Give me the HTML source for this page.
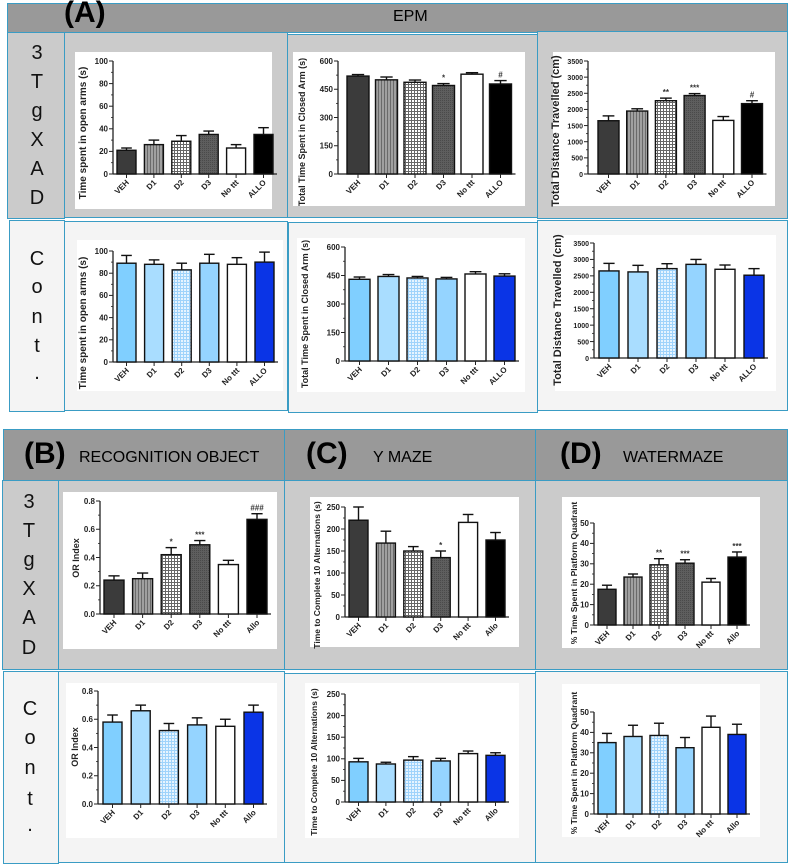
<!DOCTYPE html>
<html><head><meta charset="utf-8"><style>
body{margin:0;width:790px;height:866px;background:#fff;position:relative;overflow:hidden;font-family:"Liberation Sans",sans-serif}
.c{position:absolute;box-sizing:border-box;border:1.5px solid #3a9cc4}
.g{background:#cbcbcb}.w{background:#f4f4f4}.h{background:#999;color:#111}
.lbl{position:absolute;font-size:20px;color:#111;text-align:center;width:30px}
.ht{position:absolute;font-size:16px;white-space:nowrap}
.hb{position:absolute;font-size:30px;font-weight:bold;white-space:nowrap}
svg{position:absolute;left:0;top:0}
</style></head><body>
<div class="c h" style="left:7px;top:3px;width:781px;height:30px"></div>
<div class="hb" style="left:64px;top:-4px">(A)</div>
<div class="ht" style="left:393px;top:8px">EPM</div>
<div class="c g" style="left:7px;top:32px;width:58px;height:187px"></div>
<div class="c g" style="left:64px;top:32px;width:224px;height:186px"></div>
<div class="c g" style="left:287px;top:34px;width:251px;height:184px"></div>
<div class="c g" style="left:537px;top:31px;width:251px;height:188px"></div>
<div class="c w" style="left:9px;top:220px;width:56px;height:192px"></div>
<div class="c w" style="left:64px;top:221px;width:224px;height:190px"></div>
<div class="c w" style="left:288px;top:222px;width:250px;height:191px"></div>
<div class="c w" style="left:537px;top:220px;width:251px;height:191px"></div>

<div class="c h" style="left:3px;top:429px;width:282px;height:52px"></div>
<div class="c h" style="left:284px;top:429px;width:252px;height:52px"></div>
<div class="c h" style="left:535px;top:429px;width:253px;height:52px"></div>
<div class="hb" style="left:24px;top:437px">(B)</div>
<div class="ht" style="left:79px;top:449px">RECOGNITION OBJECT</div>
<div class="hb" style="left:306px;top:437px">(C)</div>
<div class="ht" style="left:373px;top:449px">Y MAZE</div>
<div class="hb" style="left:560px;top:437px">(D)</div>
<div class="ht" style="left:623px;top:449px">WATERMAZE</div>
<div class="c g" style="left:2px;top:480px;width:57px;height:190px"></div>
<div class="c g" style="left:58px;top:480px;width:227px;height:190px"></div>
<div class="c g" style="left:284px;top:480px;width:252px;height:190px"></div>
<div class="c g" style="left:535px;top:480px;width:253px;height:190px"></div>
<div class="c w" style="left:3px;top:671px;width:56px;height:193px"></div>
<div class="c w" style="left:58px;top:671px;width:227px;height:192px"></div>
<div class="c w" style="left:284px;top:673px;width:252px;height:190px"></div>
<div class="c w" style="left:535px;top:671px;width:253px;height:192px"></div>

<div>
<div class="lbl" style="left:22px;top:42px">3</div><div class="lbl" style="left:22px;top:71px">T</div><div class="lbl" style="left:22px;top:100px">g</div><div class="lbl" style="left:22px;top:129px">X</div><div class="lbl" style="left:22px;top:158px">A</div><div class="lbl" style="left:22px;top:187px">D</div></div>
<div>
<div class="lbl" style="left:22px;top:248px">C</div><div class="lbl" style="left:22px;top:276px">o</div><div class="lbl" style="left:22px;top:306px">n</div><div class="lbl" style="left:22px;top:335px">t</div><div class="lbl" style="left:22px;top:362px">.</div></div>
<div>
<div class="lbl" style="left:14px;top:491px">3</div><div class="lbl" style="left:14px;top:520px">T</div><div class="lbl" style="left:14px;top:549px">g</div><div class="lbl" style="left:14px;top:578px">X</div><div class="lbl" style="left:14px;top:607px">A</div><div class="lbl" style="left:14px;top:637px">D</div></div>
<div>
<div class="lbl" style="left:15px;top:698px">C</div><div class="lbl" style="left:15px;top:727px">o</div><div class="lbl" style="left:15px;top:757px">n</div><div class="lbl" style="left:15px;top:788px">t</div><div class="lbl" style="left:15px;top:814px">.</div></div>

<svg id="s" width="790" height="866">
<defs>
<pattern id="pStripe" width="3" height="4" patternUnits="userSpaceOnUse"><rect width="3" height="4" fill="#a0a0a0"/><rect width="1" height="4" fill="#6a6a6a"/></pattern>
<pattern id="pCheck" width="3" height="3" patternUnits="userSpaceOnUse"><rect width="3" height="3" fill="#fff"/><rect width="3" height="1" fill="#666"/><rect width="1" height="3" fill="#666"/></pattern>
<pattern id="pD3" width="2" height="2" patternUnits="userSpaceOnUse"><rect width="2" height="2" fill="#5e5e5e"/><rect width="1" height="1" fill="#4a4a4a"/></pattern>
<pattern id="pCheckB" width="3" height="3" patternUnits="userSpaceOnUse"><rect width="3" height="3" fill="#e6f4ff"/><rect width="3" height="1" fill="#9fd3fb"/><rect width="1" height="3" fill="#9fd3fb"/></pattern>
</defs>
</svg>
<script>
const catsA = ["VEH","D1","D2","D3","No ttt","ALLO"];
const catsB = ["VEH","D1","D2","D3","No ttt","Allo"];
const openTgValues = [21,26,29,35,23,35];
const openTgErrors = [2,4,5,3,3,6];
const closedTgValues = [520,500,487,470,530,478];
const closedTgErrors = [8,15,12,10,8,18];
const distTgValues = [1650,1950,2270,2430,1660,2180];
const distTgErrors = [150,70,80,60,120,90];
const openCtValues = [89,88,83,89,88,90];
const openCtErrors = [7,4,6,8,6,9];
const closedCtValues = [430,445,437,432,458,447];
const closedCtErrors = [12,10,8,8,12,12];
const distCtValues = [2650,2620,2720,2850,2700,2520];
const distCtErrors = [230,200,150,150,130,200];
const orTgValues = [0.24,0.25,0.42,0.49,0.35,0.67];
const orTgErrors = [0.03,0.04,0.05,0.03,0.03,0.04];
const orCtValues = [0.58,0.66,0.52,0.56,0.55,0.65];
const orCtErrors = [0.05,0.04,0.05,0.05,0.05,0.05];
const ymTgValues = [220,168,150,135,215,175];
const ymTgErrors = [30,27,10,15,18,17];
const ymCtValues = [93,88,97,95,112,108];
const ymCtErrors = [8,4,8,6,6,6];
const wmTgValues = [17.5,23.5,29.5,30.3,21,33.3];
const wmTgErrors = [2,1.5,3,1.7,1.8,2.5];
const wmCtValues = [35,38,38.5,32.5,42.5,39];
const wmCtErrors = [4.5,5.5,6,5,5.5,5];
const starsEpmClosed = ["","","","*","","#"];
const starsEpmDist = ["","","**","***","","#"];
const starsOr = ["","","*","***","","###"];
const starsYm = ["","","","*","",""];
const starsWm = ["","","**","***","","***"];
const ticks100 = [0,20,40,60,80,100];
const ticks600 = [0,150,300,450,600];
const ticks3500 = [0,500,1000,1500,2000,2500,3000,3500];
const ticksOr = [0,0.2,0.4,0.6,0.8];
const ticksYm = [0,50,100,150,200,250];
const ticksWm = [0,10,20,30,40,50];

const fillTg = ["#3b3b3b","url(#pStripe)","url(#pCheck)","url(#pD3)","#fff","#000"];
const fillCt = ["#80cfff","#a9ddff","url(#pCheckB)","#95d4ff","#fff","#0a34e6"];
const NS = "http://www.w3.org/2000/svg";
const svg = document.getElementById("s");
function mk(tag, attrs, parent){const e=document.createElementNS(NS,tag);for(const k in attrs)e.setAttribute(k,attrs[k]);(parent||svg).appendChild(e);return e;}

function chart(name,c,cats,vals,errs,ticks,ymax,fills,stars,label,fmt){
  const g=mk("g",{});
  
  
  const bg=mk("rect",{x:c.box[0],y:c.box[1],width:c.box[2]-c.box[0],height:c.box[3]-c.box[1],fill:"#fff"},g);
  
  
  const yS=v=>c.yB-v/ymax*(c.yB-c.yT);
  const xS=i=>c.c0+i*c.step;
  const xEnd=xS(cats.length-1)+c.bw/2+4;
  const ya=mk("line",{x1:c.ax,y1:c.yT,x2:c.ax,y2:c.yB,stroke:"#222","stroke-width":1.3},g);
  
  
  const xa=mk("line",{x1:c.ax,y1:c.yB,x2:xEnd,y2:c.yB,stroke:"#222","stroke-width":1.3},g);
  
  
  ticks.forEach((t,k)=>{
    const y=yS(t);
    mk("line",{x1:c.ax-4,y1:y,x2:c.ax,y2:y,stroke:"#222","stroke-width":1},g);
    if(k<ticks.length-1){const ym=yS((t+ticks[k+1])/2);mk("line",{x1:c.ax-2,y1:ym,x2:c.ax,y2:ym,stroke:"#222","stroke-width":0.8},g);}
    const tl=mk("text",{x:c.ax-5,y:y+2.8,"text-anchor":"end","font-size":c.tf||8,"font-weight":"bold",fill:"#222"},g);
    tl.textContent=fmt?fmt(t):t;
    
    
  });
  vals.forEach((v,i)=>{
    const cx=xS(i),top=yS(v),et=yS(v+errs[i]);
    mk("line",{x1:cx,y1:top,x2:cx,y2:et,stroke:"#111","stroke-width":1.4},g);
    mk("line",{x1:cx-c.bw*0.28,y1:et,x2:cx+c.bw*0.28,y2:et,stroke:"#111","stroke-width":1.4},g);
    const b=mk("rect",{x:cx-c.bw/2,y:top,width:c.bw,height:c.yB-top,fill:fills[i],stroke:"#111","stroke-width":1.4},g);
    
    
    mk("line",{x1:cx,y1:c.yB,x2:cx,y2:c.yB+4,stroke:"#222","stroke-width":1},g);
    const xl=mk("text",{transform:`translate(${cx+3},${c.yB+9}) rotate(-45)`,"text-anchor":"end","font-size":c.xf||8,"font-weight":"bold",fill:"#222"},g);
    xl.textContent=cats[i];
    
    
    if(stars&&stars[i]){
      const st=mk("text",{x:cx,y:et-3,"text-anchor":"middle","font-size":8,"font-weight":"bold",fill:"#333"},g);
      st.textContent=stars[i];
      
      
    }
  });
  const lb=mk("text",{transform:`translate(${c.lx},${c.ly}) rotate(-90)`,"text-anchor":"middle","font-size":c.lf,"font-weight":"bold",fill:"#222"},g);
  lb.textContent=label;
  
  
}
chart("epm-open-arms-3tgxad",{box:[75,52,272,209],ax:113,yT:61,yB:174,c0:126.5,step:27.4,bw:19,lx:86,ly:133,lf:10},catsA,openTgValues,openTgErrors,ticks100,100,fillTg,null,"Time spent in open arms  (s)");
chart("epm-closed-arm-3tgxad",{box:[293,52,525,206],ax:338,yT:61,yB:174,c0:358,step:28.5,bw:22,lx:305,ly:132,lf:9},catsA,closedTgValues,closedTgErrors,ticks600,600,fillTg,starsEpmClosed,"Total Time Spent in Closed Arm (s)");
chart("epm-distance-3tgxad",{box:[553,52,775,206],ax:588,yT:61,yB:174,c0:608.5,step:28.7,bw:21,lx:559,ly:131,lf:11,tf:7},catsA,distTgValues,distTgErrors,ticks3500,3500,fillTg,starsEpmDist,"Total Distance Travelled (cm)");
chart("epm-open-arms-control",{box:[77,240,283,391],ax:113,yT:251,yB:362,c0:126.5,step:27.6,bw:19,lx:86,ly:323,lf:10},catsA,openCtValues,openCtErrors,ticks100,100,fillCt,null,"Time spent in open arms  (s)");
chart("epm-closed-arm-control",{box:[297,238,525,392],ax:345,yT:247,yB:361,c0:359.5,step:29,bw:21,lx:308,ly:314,lf:9},catsA,closedCtValues,closedCtErrors,ticks600,600,fillCt,null,"Total Time Spent in Closed Arm (s)");
chart("epm-distance-control",{box:[555,235,776,391],ax:594,yT:243,yB:358,c0:609,step:29,bw:20,lx:561,ly:310,lf:11,tf:7},catsA,distCtValues,distCtErrors,ticks3500,3500,fillCt,null,"Total Distance Travelled (cm)");
const f1=t=>t.toFixed(1);
chart("or-index-3tgxad",{box:[63,492,277,649],ax:100,yT:501,yB:614,c0:114,step:28.6,bw:20,lx:79,ly:558,lf:9},catsB,orTgValues,orTgErrors,ticksOr,0.8,fillTg,starsOr,"OR Index",f1);
chart("or-index-control",{box:[66,683,277,838],ax:98,yT:691,yB:804,c0:112.5,step:28.2,bw:19,lx:78,ly:747,lf:9},catsB,orCtValues,orCtErrors,ticksOr,0.8,fillCt,null,"OR  Index",f1);
chart("ymaze-3tgxad",{box:[310,497,519,647],ax:345,yT:507,yB:617,c0:358.5,step:27.4,bw:19,lx:320,ly:575,lf:8.5},catsB,ymTgValues,ymTgErrors,ticksYm,250,fillTg,starsYm,"Time to Complete 10  Alternations (s)");
chart("ymaze-control",{box:[305,683,519,838],ax:345,yT:694,yB:802,c0:358.5,step:27.4,bw:19,lx:317,ly:762,lf:8.5},catsB,ymCtValues,ymCtErrors,ticksYm,250,fillCt,null,"Time to Complete 10  Alternations (s)");
chart("watermaze-3tgxad",{box:[562,497,760,648],ax:594,yT:523,yB:625,c0:607,step:26,bw:18,lx:577,ly:573,lf:8.5},catsB,wmTgValues,wmTgErrors,ticksWm,50,fillTg,starsWm,"% Time Spent in Platform Quadrant");
chart("watermaze-control",{box:[562,684,760,837],ax:594,yT:712,yB:814,c0:607,step:26,bw:18,lx:577,ly:763,lf:8.5},catsB,wmCtValues,wmCtErrors,ticksWm,50,fillCt,null,"% Time Spent in Platform Quadrant");
</script>
</body></html>
